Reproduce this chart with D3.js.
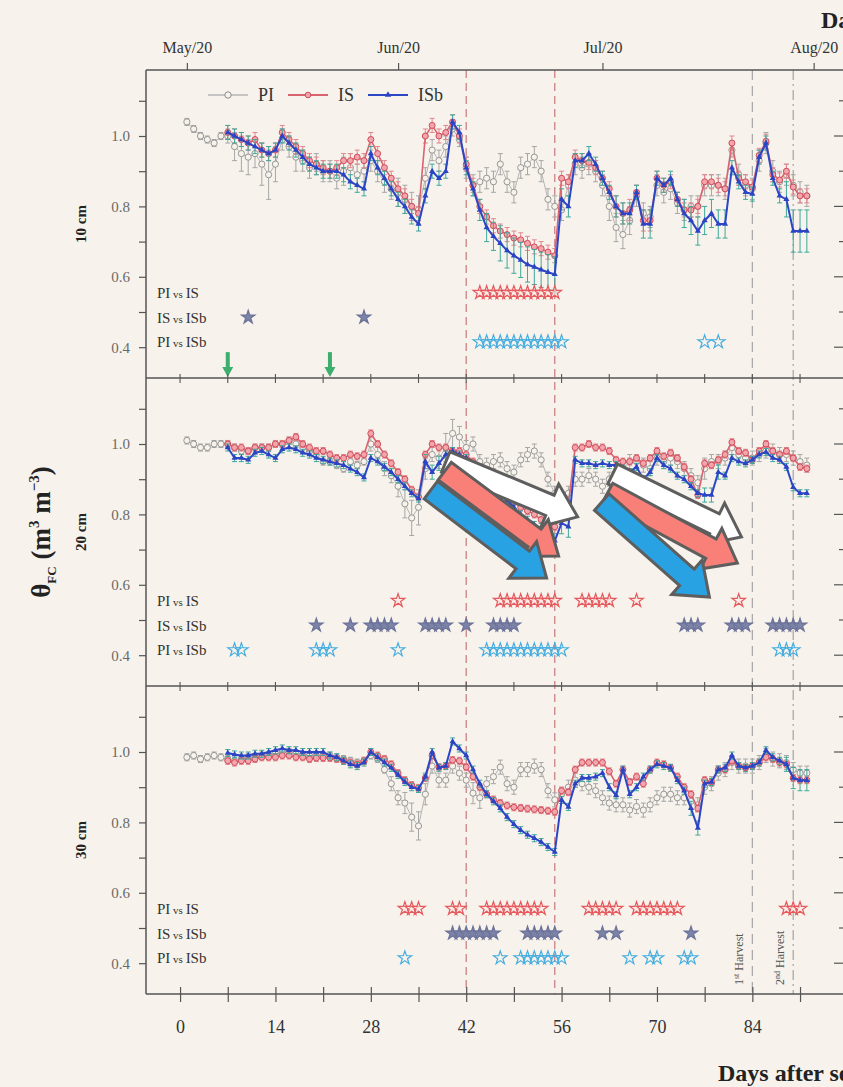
<!DOCTYPE html>
<html>
<head>
<meta charset="utf-8">
<script src="https://cdnjs.cloudflare.com/ajax/libs/d3/7.8.5/d3.min.js"></script>
<style>
  body { margin: 0; background: #f7f3ec; }
  svg { display: block; font-family: "Liberation Serif", "DejaVu Serif", serif; }
</style>
</head>
<body>
<div id="chart"></div>
<script>

// days after sowing, one reading per day (day 0 = 30 Apr 2020)
var days = d3.range(1, 93);
var depths = ["10 cm", "20 cm", "30 cm"];
var seriesNames = ["PI", "IS", "ISb"];
var compareRows = ["PI vs IS", "IS vs ISb", "PI vs ISb"];
var monthTicks = ["2020-05-01", "2020-06-01", "2020-07-01", "2020-08-01"];
var drySpell = [42, 55];
var harvestDays = [84, 90];
var harvestLabels = ["1st", "2nd"];
var irrigationDays = [7, 22];

// ---------- 10 cm ----------
var PI10 = [1.04,1.02,1.00,0.99,0.98,1.00,1.00,0.97,0.95,0.94,
  0.95,0.92,0.89,0.92,0.99,0.97,0.94,0.93,0.91,0.92,
  0.90,0.90,0.88,0.90,0.91,0.89,0.90,0.93,0.90,0.87,
  0.85,0.84,0.82,0.80,0.79,0.88,0.96,0.93,0.97,1.02,
  0.99,0.91,0.86,0.87,0.88,0.87,0.92,0.87,0.84,0.91,
  0.92,0.94,0.90,0.82,0.80,0.79,0.86,0.92,0.91,0.92,
  0.90,0.86,0.80,0.74,0.72,0.76,0.83,0.78,0.77,0.86,
  0.84,0.85,0.81,0.79,0.80,0.80,0.86,0.86,0.86,0.85,
  0.96,0.89,0.86,0.85,0.93,0.98,0.90,0.87,0.89,0.86,
  0.84,0.83];
var IS10 = [null,null,null,null,null,null,1.01,1.00,0.99,0.98,
  0.99,0.96,0.95,0.96,1.01,0.99,0.97,0.95,0.93,0.92,
  0.91,0.90,0.91,0.93,0.93,0.94,0.93,0.99,0.95,0.91,
  0.88,0.85,0.83,0.80,0.78,1.00,1.03,1.00,1.01,1.04,
  1.00,0.92,0.86,0.80,0.77,0.745,0.73,0.72,0.71,0.705,
  0.695,0.685,0.68,0.67,0.66,0.88,0.87,0.94,0.93,0.925,
  0.91,0.88,0.85,0.80,0.78,0.79,0.84,0.76,0.76,0.88,
  0.86,0.87,0.82,0.79,0.79,0.80,0.87,0.87,0.86,0.85,
  0.98,0.88,0.87,0.855,0.945,0.985,0.89,0.875,0.90,0.855,
  0.83,0.83];
var ISb10 = [null,null,null,null,null,null,1.01,1.00,0.99,0.98,
  0.97,0.96,0.95,0.96,1.00,0.98,0.96,0.94,0.92,0.91,
  0.90,0.90,0.90,0.89,0.87,0.86,0.85,0.95,0.91,0.88,
  0.85,0.82,0.80,0.77,0.75,0.83,0.90,0.88,0.90,1.04,
  1.01,0.91,0.85,0.79,0.74,0.715,0.695,0.675,0.66,0.648,
  0.635,0.628,0.62,0.613,0.607,0.82,0.80,0.93,0.93,0.95,
  0.92,0.88,0.84,0.80,0.78,0.78,0.84,0.75,0.75,0.88,
  0.86,0.88,0.82,0.78,0.76,0.73,0.76,0.78,0.75,0.75,
  0.91,0.87,0.84,0.835,0.94,0.98,0.88,0.83,0.82,0.73,
  0.73,0.73];
// standard errors, hundredths
var errPI10 = [1,1,1,1,1,1,2,4,5,5, 4,6,7,5,3,3,4,3,3,3, 3,3,3,4,4,3,3,3,3,3,
  3,4,4,4,4,3,3,3,3,2, 2,3,3,3,3,3,3,3,3,3, 3,3,3,3,3,3,3,3,3,3,
  3,3,4,4,4,4,3,3,3,3, 3,3,3,3,3,3,3,3,3,3, 2,3,3,3,3,3,3,3,3,3, 3,3];
var errIS10 = [0,0,0,0,0,0,2,2,2,2, 2,2,2,2,2,2,2,2,2,2, 2,2,2,2,2,2,2,2,2,2,
  2,2,2,2,2,2,2,2,2,2, 2,2,2,2,2,2,2,2,2,2, 2,2,2,2,2,2,2,2,2,2,
  2,2,2,3,3,3,2,3,3,2, 2,2,2,2,2,2,2,2,2,2, 2,2,2,2,2,2,2,2,2,2, 2,2];
var errISb10 = [0,0,0,0,0,0,2,2,2,2, 2,2,2,2,2,2,2,2,2,2, 2,2,2,2,2,2,2,2,2,2,
  2,2,2,2,2,2,2,2,2,2, 2,2,2,3,4,4,5,5,5,5, 5,5,5,5,5,3,3,2,2,2,
  2,2,2,3,3,3,2,4,4,2, 2,2,2,4,4,4,4,4,4,4, 2,2,2,2,2,2,2,2,5,6, 6,6];

// ---------- 20 cm ----------
var PI20 = [1.01,1.00,0.99,0.99,1.00,1.00,1.00,0.99,0.98,0.98,
  0.99,0.99,0.99,1.00,1.00,1.01,1.00,0.99,0.98,0.97,
  0.95,0.95,0.94,0.93,0.95,0.94,0.95,1.00,0.97,0.93,
  0.91,0.88,0.83,0.79,0.82,0.93,0.97,0.96,0.99,1.03,
  1.02,0.99,1.00,0.95,0.94,0.95,0.955,0.93,0.92,0.955,
  0.97,0.98,0.955,0.90,0.86,0.84,0.86,0.90,0.90,0.91,
  0.90,0.88,0.90,0.92,0.93,0.95,0.95,0.94,0.93,0.96,
  0.95,0.96,0.95,0.93,0.91,0.89,0.93,0.95,0.95,0.96,
  0.99,0.97,0.96,0.96,0.97,0.98,0.98,0.97,0.97,0.96,
  0.95,0.94];
var IS20 = [null,null,null,null,null,null,1.00,0.99,0.99,0.98,
  0.99,0.99,0.99,1.00,1.00,1.01,1.02,1.00,0.99,0.98,
  0.98,0.97,0.96,0.96,0.97,0.965,0.97,1.03,1.00,0.97,
  0.945,0.92,0.90,0.87,0.85,0.97,1.00,0.99,0.99,0.98,
  0.98,0.97,0.95,0.93,0.91,0.89,0.87,0.85,0.835,0.82,
  0.81,0.80,0.785,0.775,0.765,0.80,0.83,0.99,0.99,1.00,
  0.99,0.99,0.98,0.955,0.95,0.95,0.96,0.945,0.96,0.98,
  0.965,0.975,0.96,0.935,0.90,0.855,0.945,0.94,0.955,0.97,
  1.005,0.98,0.975,0.955,0.98,1.00,0.98,0.97,0.98,0.96,
  0.935,0.93];
var ISb20 = [null,null,null,null,null,null,0.99,0.96,0.96,0.955,
  0.975,0.98,0.97,0.96,0.985,0.99,0.985,0.975,0.97,0.96,
  0.955,0.95,0.945,0.94,0.93,0.92,0.905,0.96,0.95,0.935,
  0.92,0.90,0.88,0.86,0.845,0.95,0.92,0.945,0.97,0.98,
  0.97,0.96,0.94,0.92,0.90,0.88,0.86,0.84,0.82,0.80,
  0.785,0.77,0.755,0.74,0.725,0.775,0.765,0.955,0.945,0.945,
  0.94,0.945,0.94,0.94,0.93,0.92,0.935,0.90,0.92,0.96,
  0.94,0.93,0.91,0.90,0.88,0.86,0.855,0.855,0.92,0.91,
  0.96,0.95,0.945,0.955,0.97,0.977,0.96,0.955,0.935,0.877,
  0.86,0.86];
var errPI20 = [1,1,1,1,1,1,1,1,1,1, 1,1,1,1,1,1,1,1,1,1, 1,1,1,1,1,1,1,2,2,2,
  2,3,4,5,5,3,2,3,4,4, 3,2,2,2,2,2,2,2,2,2, 2,2,2,2,2,2,2,2,2,2,
  2,2,2,2,2,2,2,2,2,2, 2,2,2,2,2,2,3,2,2,2, 2,2,2,2,2,2,2,2,2,2, 2,2];
var errIS20 = [0,0,0,0,0,0,1,1,1,1, 1,1,1,1,1,1,1,1,1,1, 1,1,1,1,1,1,1,1,1,1,
  1,1,1,1,1,1,1,1,1,1, 1,1,1,1,1,1,1,1,1,1, 1,1,1,1,1,1,1,1,1,1,
  1,1,1,1,1,1,1,1,1,1, 1,1,1,1,1,1,1,1,1,1, 1,1,1,1,1,1,1,1,1,1, 1,1];
var errISb20 = [0,0,0,0,0,0,1,1,1,1, 1,1,1,1,1,1,1,1,1,1, 1,1,1,1,1,1,1,1,1,1,
  1,1,1,1,1,2,2,2,1,1, 1,1,1,1,1,1,1,1,1,1, 1,1,2,2,2,3,3,1,1,1,
  1,1,1,1,1,1,1,1,1,1, 1,1,1,1,1,1,2,2,2,1, 1,1,1,1,1,1,1,1,1,1, 1,1];

// ---------- 30 cm ----------
var PI30 = [0.985,0.99,0.98,0.985,0.99,0.985,0.98,0.975,0.98,0.985,
  0.985,0.99,0.99,0.995,1.00,1.00,0.995,0.99,0.99,0.99,
  0.99,0.99,0.985,0.98,0.975,0.97,0.975,0.99,0.98,0.95,
  0.91,0.87,0.855,0.815,0.79,0.88,0.96,0.92,0.92,0.96,
  0.94,0.92,0.883,0.87,0.91,0.93,0.957,0.91,0.90,0.95,
  0.95,0.96,0.95,0.89,0.864,0.88,0.90,0.92,0.91,0.90,
  0.89,0.87,0.855,0.85,0.85,0.835,0.845,0.835,0.85,0.87,
  0.88,0.88,0.87,0.87,0.86,0.85,0.90,0.91,0.94,0.95,
  0.97,0.96,0.96,0.96,0.97,0.99,0.98,0.975,0.97,0.95,
  0.94,0.94];
var IS30 = [null,null,null,null,null,null,0.975,0.97,0.975,0.975,
  0.98,0.985,0.985,0.985,0.99,0.99,0.985,0.985,0.98,0.983,
  0.983,0.983,0.98,0.975,0.97,0.965,0.975,1.00,0.99,0.98,
  0.965,0.94,0.92,0.906,0.898,0.926,0.99,0.957,0.96,0.977,
  0.975,0.957,0.93,0.90,0.88,0.865,0.855,0.848,0.843,0.841,
  0.839,0.837,0.835,0.833,0.83,0.89,0.886,0.95,0.97,0.97,
  0.97,0.97,0.945,0.91,0.95,0.915,0.93,0.91,0.95,0.97,
  0.965,0.955,0.93,0.90,0.88,0.84,0.92,0.915,0.95,0.95,
  0.975,0.96,0.955,0.96,0.97,0.985,0.98,0.97,0.965,0.926,
  0.92,0.92];
var ISb30 = [null,null,null,null,null,null,0.997,0.993,0.99,0.99,
  0.995,0.995,1.00,1.005,1.01,1.005,1.005,1.00,1.00,1.00,
  1.00,0.99,0.985,0.975,0.965,0.96,0.97,1.00,0.985,0.97,
  0.955,0.935,0.915,0.90,0.895,0.93,1.00,0.955,0.96,1.03,
  1.01,0.99,0.95,0.91,0.88,0.86,0.84,0.815,0.795,0.778,
  0.765,0.755,0.744,0.73,0.716,0.864,0.844,0.91,0.926,0.926,
  0.93,0.94,0.90,0.877,0.95,0.88,0.90,0.93,0.95,0.965,
  0.96,0.955,0.92,0.89,0.84,0.784,0.91,0.915,0.95,0.955,
  0.99,0.96,0.955,0.96,0.97,1.005,0.985,0.975,0.965,0.926,
  0.92,0.92];
var errPI30 = [1,1,1,1,1,1,1,1,1,1, 1,1,1,1,1,1,1,1,1,1, 1,1,1,1,1,1,1,1,1,1,
  2,2,3,4,4,3,2,2,2,2, 2,2,3,3,2,2,2,2,2,2, 2,2,2,2,2,2,2,2,2,2,
  2,2,2,2,2,2,2,2,2,2, 2,2,2,2,2,2,2,2,2,2, 2,2,2,2,2,2,2,2,2,2, 2,2];
var errIS30 = [0,0,0,0,0,0,1,1,1,1, 1,1,1,1,1,1,1,1,1,1, 1,1,1,1,1,1,1,1,1,1,
  1,1,1,1,1,1,1,1,1,1, 1,1,1,1,1,1,1,1,1,1, 1,1,1,1,1,1,1,1,1,1,
  1,1,1,1,1,1,1,1,1,1, 1,1,1,1,1,1,1,1,1,1, 1,1,1,1,1,1,1,1,1,1, 1,1];
var errISb30 = [0,0,0,0,0,0,1,1,1,1, 1,1,1,1,1,1,1,1,1,1, 1,1,1,1,1,1,1,1,1,1,
  1,1,1,1,1,1,1,1,1,1, 1,1,1,1,1,1,1,1,1,1, 1,1,1,1,1,1,1,1,1,1,
  1,1,1,1,1,1,1,1,1,1, 1,1,1,1,2,2,1,1,1,1, 1,1,1,1,1,1,1,1,2,3, 3,3];

// significance stars (days), rows = compareRows
var stars10 = [
  [44,45,46,47,48,49,50,51,52,53,54,55],
  [10,27],
  [44,45,46,47,48,49,50,51,52,53,54,55,56,77,79]
];
var stars20 = [
  [32,47,48,49,50,51,52,53,54,55,59,60,61,62,63,67,82],
  [20,25,28,29,30,31,36,37,38,39,42,46,47,48,49,74,75,76,81,82,83,87,88,89,90,91],
  [8,9,20,21,22,32,45,46,47,48,49,50,51,52,53,54,55,56,88,89,90]
];
var stars30 = [
  [33,34,35,40,41,45,46,47,48,49,50,51,52,53,60,61,62,63,64,67,68,69,70,71,72,73,89,90,91],
  [40,41,42,43,44,45,46,51,52,53,54,55,62,64,75],
  [33,47,50,51,52,53,54,55,56,66,69,70,74,75]
];
var rowValues = [0.555, 0.485, 0.415];

// overlaid block arrows on the 20 cm panel: [tailDay, tailValue, tipDay, tipValue]
var arrowsWhite = [[39.0, 0.949, 58.35, 0.793], [63.5, 0.915, 82.4, 0.736]];
var arrowsRed = [[38.85, 0.923, 55.56, 0.682], [62.75, 0.861, 81.8, 0.662]];
var arrowsBlue = [[36.8, 0.869, 53.8, 0.619], [61.9, 0.835, 77.7, 0.565]];

var panels = [
  { label: depths[0], series: [PI10, IS10, ISb10], errs: [errPI10, errIS10, errISb10], stars: stars10 },
  { label: depths[1], series: [PI20, IS20, ISb20], errs: [errPI20, errIS20, errISb20], stars: stars20 },
  { label: depths[2], series: [PI30, IS30, ISb30], errs: [errPI30, errIS30, errISb30], stars: stars30 }
];

drawChart();

function drawChart() {
  // ===========================================================================================
  // layout
  var width = 843, height = 1087,
      left = 146, right = 845, plotTop = 70, panelH = 308, bg = "#f7f3ec";

  var lineCol = ["#b4b4b4", "#d9646f", "#2c46c6"],
      errCol = ["#a6a6a6", "#e2868d", "#3fa89a"],
      axisCol = "#555";

  var x = d3.scaleLinear().domain([-5, 97.6]).range([left, right]);
  var day0 = Date.UTC(2020, 3, 30);
  var xDate = d3.scaleUtc()
      .domain([new Date(day0 - 5 * 864e5), new Date(day0 + 97.6 * 864e5)])
      .range([left, right]);

  var svg = d3.select("#chart").append("svg")
      .attr("width", width)
      .attr("height", height)
      .style("background", bg);

  // ===========================================================================================
  // vertical reference lines behind the data
  var yTop = plotTop, yBot = plotTop + 3 * panelH;
  svg.append("g").selectAll("line")
      .data(drySpell).enter().append("line")
      .attr("x1", function(d) { return x(d); }).attr("x2", function(d) { return x(d); })
      .attr("y1", yTop).attr("y2", yBot)
      .attr("stroke", "#c47a7a").attr("stroke-width", 1.2)
      .attr("stroke-dasharray", "8,5");
  svg.append("g").selectAll("line")
      .data(harvestDays).enter().append("line")
      .attr("x1", function(d) { return x(d); }).attr("x2", function(d) { return x(d); })
      .attr("y1", yTop).attr("y2", yBot)
      .attr("stroke", "#aaaaaa").attr("stroke-width", 1.3)
      .attr("stroke-dasharray", function(d, i) { return i === 0 ? "10,6" : "10,4,2,4"; });

  // ===========================================================================================
  // panels
  panels.forEach(function(p, pi) {
    var y0 = plotTop + pi * panelH;
    var y = d3.scaleLinear().domain([0.3125, 1.1875]).range([y0 + panelH, y0]);
    var g = svg.append("g").attr("class", "panel");

    // left axis
    var ax = g.append("g").attr("transform", "translate(" + left + ",0)")
        .call(d3.axisLeft(y).tickValues([0.4, 0.5, 0.6, 0.7, 0.8, 0.9, 1.0, 1.1])
          .tickSize(7).tickPadding(9)
          .tickFormat(function(d) { return Math.round(d * 10) % 2 === 0 ? d3.format(".1f")(d) : ""; }));
    ax.select(".domain").remove();
    ax.selectAll("line").attr("stroke", axisCol).attr("stroke-width", 1.2);
    ax.selectAll("text").attr("fill", "#6a6a6a").style("font-size", "15px")
      .style("font-family", "Liberation Serif, serif");

    // right axis ticks pointing inwards
    g.append("g").selectAll("line")
        .data([0.4, 0.5, 0.6, 0.7, 0.8, 0.9, 1.0, 1.1]).enter().append("line")
        .attr("x1", right)
        .attr("x2", function(d) { return right - (Math.round(d * 10) % 2 === 0 ? 11 : 6); })
        .attr("y1", function(d) { return y(d); }).attr("y2", function(d) { return y(d); })
        .attr("stroke", axisCol).attr("stroke-width", 1.2);

    // depth label
    g.append("text")
        .attr("transform", "translate(86," + (y0 + panelH / 2) + ") rotate(-90)")
        .attr("text-anchor", "middle")
        .style("font-size", "15px").style("font-weight", "bold")
        .attr("fill", "#222")
        .text(p.label);

    // error bars + lines + markers
    p.series.forEach(function(vals, si) {
      var pts = days.map(function(d, i) {
        return { day: d, v: vals[i], e: p.errs[si][i] / 100 };
      }).filter(function(d) { return d.v !== null; });

      var eg = g.append("g").attr("stroke", errCol[si]).attr("stroke-width", 1);
      eg.selectAll(".eb").data(pts).enter().append("path")
          .attr("fill", "none")
          .attr("d", function(d) {
            var cx = x(d.day), a = y(d.v - d.e), b = y(d.v + d.e);
            return "M" + cx + "," + a + "V" + b + "M" + (cx - 2.5) + "," + a + "H" + (cx + 2.5) +
                   "M" + (cx - 2.5) + "," + b + "H" + (cx + 2.5);
          });

      var line = d3.line().x(function(d) { return x(d.day); }).y(function(d) { return y(d.v); });
      g.append("path").datum(pts)
          .attr("fill", "none")
          .attr("stroke", lineCol[si])
          .attr("stroke-width", si === 0 ? 1 : (si === 1 ? 1.6 : 2))
          .attr("d", line);

      var mg = g.append("g");
      if (si === 0) {
        mg.selectAll("circle").data(pts).enter().append("circle")
            .attr("cx", function(d) { return x(d.day); }).attr("cy", function(d) { return y(d.v); })
            .attr("r", 3.1).attr("fill", bg).attr("stroke", "#8c8c8c").attr("stroke-width", 0.9);
      } else if (si === 1) {
        mg.selectAll("circle").data(pts).enter().append("circle")
            .attr("cx", function(d) { return x(d.day); }).attr("cy", function(d) { return y(d.v); })
            .attr("r", 3).attr("fill", "#f2a6ab").attr("stroke", "#d04a5a").attr("stroke-width", 1);
      } else {
        mg.selectAll("path").data(pts).enter().append("path")
            .attr("d", d3.symbol().type(d3.symbolTriangle).size(16))
            .attr("transform", function(d) { return "translate(" + x(d.day) + "," + y(d.v) + ")"; })
            .attr("fill", "#2a44c4");
      }
    });

    // significance rows
    var starStyle = [
      { fill: "#fbe6e2", stroke: "#e5585c" },
      { fill: "#7c83a8", stroke: "#6c7298" },
      { fill: "none", stroke: "#45ade0" }
    ];
    p.stars.forEach(function(list, ri) {
      var ry = y(rowValues[ri]);
      var t = g.append("text").attr("x", 157).attr("y", ry).attr("dy", "0.35em")
          .attr("fill", "#333").style("font-size", "15px");
      var parts = compareRows[ri].split(" vs ");
      t.append("tspan").text(parts[0]);
      t.append("tspan").style("font-size", "11px").text(" vs ");
      t.append("tspan").text(parts[1]);

      g.append("g").selectAll("path").data(list).enter().append("path")
          .attr("d", d3.symbol().type(d3.symbolStar).size(56))
          .attr("transform", function(d) { return "translate(" + x(d) + "," + ry + ")"; })
          .attr("fill", starStyle[ri].fill)
          .attr("fill-opacity", ri === 0 ? 0.6 : 1)
          .attr("stroke", starStyle[ri].stroke)
          .attr("stroke-width", 1.2);
    });

    // irrigation arrows (10 cm only)
    if (pi === 0) {
      var ag = g.append("g").attr("fill", "#3dae6e");
      irrigationDays.forEach(function(d) {
        var cx = x(d), ya = y(0.386), yb = y0 + panelH - 1;
        ag.append("rect").attr("x", cx - 2).attr("y", ya).attr("width", 4).attr("height", yb - ya - 9);
        ag.append("path").attr("d", "M" + (cx - 5.5) + "," + (yb - 10) + "L" + (cx + 5.5) + "," + (yb - 10) + "L" + cx + "," + yb + "Z");
      });
    }

    // block arrows (20 cm only)
    if (pi === 1) {
      var arrowFill = ["#ffffff", "#f98078", "#28a2e2"];
      [arrowsWhite, arrowsRed, arrowsBlue].forEach(function(set, k) {
        set.forEach(function(a) {
          g.append("path")
              .attr("d", blockArrow(x(a[0]), y(a[1]), x(a[2]), y(a[3])))
              .attr("fill", arrowFill[k])
              .attr("stroke", "#5e5e5e")
              .attr("stroke-width", 3)
              .attr("stroke-linejoin", "miter");
        });
      });
    }

    // harvest labels (30 cm only)
    if (pi === 2) {
      harvestDays.forEach(function(d, i) {
        var t = g.append("text")
            .attr("transform", "translate(" + (x(d) - 9) + "," + (y0 + panelH - 9) + ") rotate(-90)")
            .attr("fill", "#555").style("font-size", "12px");
        t.append("tspan").text(harvestLabels[i].charAt(0));
        t.append("tspan").attr("dy", -4).style("font-size", "8px").text(harvestLabels[i].slice(1));
        t.append("tspan").attr("dy", 4).text(" Harvest");
      });
    }
  });

  // ===========================================================================================
  // frame lines and panel separators with day ticks
  var frame = svg.append("g").attr("stroke", axisCol).attr("stroke-width", 1.5);
  frame.append("line").attr("x1", left).attr("x2", left).attr("y1", yTop).attr("y2", yBot);
  frame.append("line").attr("x1", right).attr("x2", right).attr("y1", yTop).attr("y2", yBot);
  [0, 1, 2, 3].forEach(function(k) {
    var yy = plotTop + k * panelH;
    frame.append("line").attr("x1", left).attr("x2", right).attr("y1", yy).attr("y2", yy);
  });
  [1, 2].forEach(function(k) {
    var yy = plotTop + k * panelH;
    svg.append("g").selectAll("line").data(d3.range(0, 96, 7)).enter().append("line")
        .attr("x1", function(d) { return x(d); }).attr("x2", function(d) { return x(d); })
        .attr("y1", yy - 4).attr("y2", yy + 5)
        .attr("stroke", axisCol).attr("stroke-width", 1.1);
  });

  // bottom axis: days after sowing
  var bAxis = svg.append("g").attr("transform", "translate(0," + yBot + ")")
      .call(d3.axisBottom(x).tickValues(d3.range(0, 96, 7)).tickSize(8).tickPadding(18)
        .tickFormat(function(d) { return d % 14 === 0 ? d : ""; }));
  bAxis.select(".domain").remove();
  bAxis.selectAll("line").attr("y1", -7).attr("stroke", axisCol).attr("stroke-width", 1.2);
  bAxis.selectAll("text").attr("fill", "#333").style("font-size", "18px")
      .style("font-family", "Liberation Serif, serif");

  // top axis: calendar months
  var tAxis = svg.append("g").attr("transform", "translate(0," + plotTop + ")")
      .call(d3.axisTop(xDate).tickValues(monthTicks.map(function(s) { return new Date(s + "T00:00:00Z"); }))
        .tickSize(7).tickPadding(10).tickFormat(d3.utcFormat("%b/%y")));
  tAxis.select(".domain").remove();
  tAxis.selectAll("line").attr("stroke", axisCol).attr("stroke-width", 1.2);
  tAxis.selectAll("text").attr("fill", "#333").style("font-size", "16px")
      .style("font-family", "Liberation Serif, serif");

  // axis titles (cropped at the right edge, as in the source figure)
  svg.append("text").attr("x", 821).attr("y", 28)
      .style("font-size", "24px").style("font-weight", "bold").attr("fill", "#222")
      .text("Date");
  svg.append("text").attr("x", 718).attr("y", 1081)
      .style("font-size", "24px").style("font-weight", "bold").attr("fill", "#222")
      .text("Days after sowing");

  var yl = svg.append("text")
      .attr("transform", "translate(50," + (plotTop + 1.5 * panelH) + ") rotate(-90)")
      .attr("text-anchor", "middle")
      .style("font-size", "27px").style("font-weight", "bold").attr("fill", "#222");
  yl.append("tspan").text("\u03b8");
  yl.append("tspan").attr("dy", 6).style("font-size", "13px").text("FC");
  yl.append("tspan").attr("dy", -6).text(" (m");
  yl.append("tspan").attr("dy", -11).style("font-size", "15px").text("3");
  yl.append("tspan").attr("dy", 11).text(" m");
  yl.append("tspan").attr("dy", -11).style("font-size", "15px").text("\u22123");
  yl.append("tspan").attr("dy", 11).text(")");

  // legend
  var legend = svg.append("g").attr("transform", "translate(0,95)");
  [208, 288, 368].forEach(function(lx, i) {
    legend.append("line").attr("x1", lx).attr("x2", lx + 40)
        .attr("stroke", lineCol[i]).attr("stroke-width", i === 0 ? 1.4 : 1.8);
    if (i === 0) {
      legend.append("circle").attr("cx", lx + 20).attr("r", 3.2).attr("fill", bg).attr("stroke", "#8c8c8c");
    } else if (i === 1) {
      legend.append("circle").attr("cx", lx + 20).attr("r", 2.8).attr("fill", "#f2a6ab").attr("stroke", "#d04a5a");
    } else {
      legend.append("path").attr("d", d3.symbol().type(d3.symbolTriangle).size(18)())
          .attr("transform", "translate(" + (lx + 20) + ",0)").attr("fill", "#2a44c4");
    }
    legend.append("text").attr("x", lx + 50).attr("dy", "0.35em")
        .style("font-size", "18px").attr("fill", "#333").text(seriesNames[i]);
  });
}

// ===========================================================================================
// helper: outline of a block arrow from tail to tip (pixel coords)
function blockArrow(x0, y0, x1, y1) {
  var dx = x1 - x0, dy = y1 - y0, L = Math.sqrt(dx * dx + dy * dy),
      ux = dx / L, uy = dy / L, nx = -uy, ny = ux,
      bw = 11, hw = 23, hl = 30,
      bx = x1 - ux * hl, by = y1 - uy * hl;
  var pts = [
    [x0 + nx * bw, y0 + ny * bw], [bx + nx * bw, by + ny * bw], [bx + nx * hw, by + ny * hw],
    [x1, y1],
    [bx - nx * hw, by - ny * hw], [bx - nx * bw, by - ny * bw], [x0 - nx * bw, y0 - ny * bw]
  ];
  return d3.line()(pts) + "Z";
}
</script>
</body>
</html>
